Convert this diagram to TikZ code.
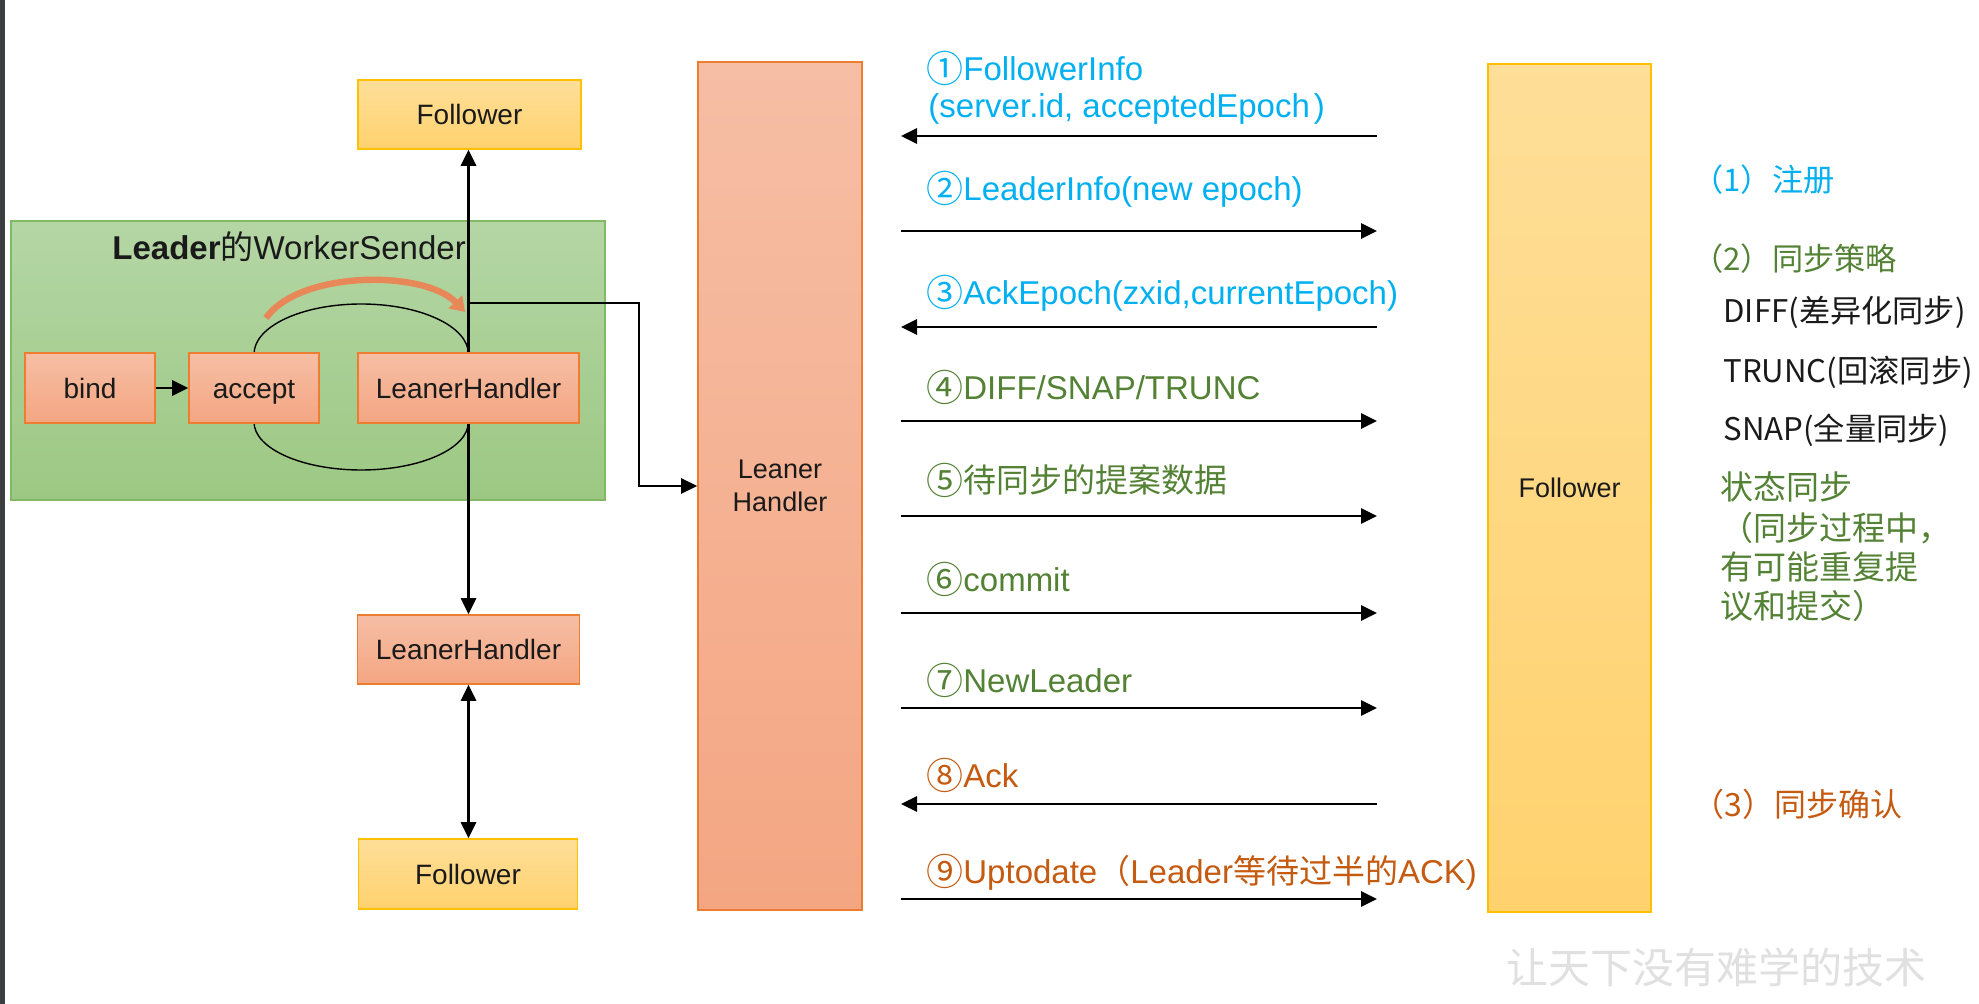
\documentclass[tikz,border=0pt]{standalone}
\usepackage{fontspec}
\setmainfont{Liberation Sans}
\newfontfamily\cjk{Noto Sans CJK SC}
\usetikzlibrary{arrows.meta}
\newcommand\cjkt[1]{{\cjk #1}}
\newcommand\cnum[1]{\raisebox{-1pt}{\cjk\fontsize{18.5}{18.5}\selectfont #1}}
\definecolor{cyanT}{RGB}{0,176,240}
\definecolor{greenT}{RGB}{84,130,53}
\definecolor{orangeT}{RGB}{197,90,17}
\definecolor{darkT}{RGB}{26,26,26}
\definecolor{salmonB}{RGB}{237,125,49}
\definecolor{salmonT}{RGB}{246,190,165}
\definecolor{salmonBo}{RGB}{244,166,130}
\definecolor{yelB}{RGB}{255,192,0}
\definecolor{yelT}{RGB}{254,222,152}
\definecolor{yelBo}{RGB}{255,210,110}
\definecolor{grnB}{RGB}{130,185,100}
\definecolor{grnT}{RGB}{180,214,165}
\definecolor{grnBo}{RGB}{157,200,131}
\definecolor{arcO}{RGB}{232,135,88}
\begin{document}
\begin{tikzpicture}[x=0.5pt,y=-0.5pt,
  box/.style={draw, line width=0.8pt, inner sep=0pt, align=center, text=darkT,
    font=\fontsize{14}{16.5}\selectfont},
  one/.style={text height=10.2pt, text depth=0pt},
  salmon/.style={box, draw=salmonB, top color=salmonT, bottom color=salmonBo},
  yel/.style={box, draw=yelB, top color=yelT, bottom color=yelBo},
  arr/.style={line width=1.4pt, -{Triangle[length=8pt,width=7.5pt]}},
  lab/.style={anchor=west, inner sep=0pt, font=\fontsize{16.5}{19.5}\selectfont},
  rt/.style={anchor=west, inner sep=0pt, font=\cjk\fontsize{15.6}{19.5}\selectfont}
]
\useasboundingbox (0,0) rectangle (1979,1004);
\fill[white] (0,0) rectangle (1979,1004);
\fill[color={rgb,255:red,60;green,63;blue,66}] (0,0) rectangle (5,1004);

% green container
\node[draw=grnB, line width=0.8pt, top color=grnT, bottom color=grnBo,
  minimum width=297pt, minimum height=139.5pt, inner sep=0pt] (green) at (308,360.5) {};
\node[anchor=west, inner sep=0pt, text=darkT, font=\fontsize{16.5}{19}\selectfont] (title) at (112,247)
  {\textbf{Leader}\cjkt{的}WorkerSender};

% loop arcs (accept <-> LeanerHandler)
\draw[line width=0.7pt] (254,354) arc[start angle=180, end angle=0, x radius=53.6pt, y radius=25pt];
\draw[line width=0.7pt] (254,422) arc[start angle=180, end angle=360, x radius=53.6pt, y radius=24pt];

% boxes
\node[salmon, one, minimum width=65pt, minimum height=35pt] (bind) at (90,388) {bind};
\node[salmon, one, minimum width=65pt, minimum height=35pt] (accept) at (254,388) {accept};
\node[salmon, one, minimum width=110.5pt, minimum height=35pt] (lh1) at (468.5,388) {LeanerHandler};
\node[yel, one, minimum width=111.5pt, minimum height=34.5pt] (fTop) at (469.5,114.5) {Follower};
\node[salmon, one, minimum width=111pt, minimum height=34.5pt] (lh2) at (468.5,649.5) {LeanerHandler};
\node[yel, one, minimum width=109.5pt, minimum height=35pt] (fBot) at (468,874) {Follower};
\node[salmon, minimum width=82pt, minimum height=424pt, font=\fontsize{13.5}{16.5}\selectfont] (mid) at (780,486) {Leaner\\Handler};
\node[yel, minimum width=81.5pt, minimum height=424pt, font=\fontsize{13.5}{16.5}\selectfont] (fRight) at (1569.5,488) {Follower};

% orange curved arrow
\draw[line width=3.2pt, arcO, -{Triangle[length=7pt,width=9pt]}] (266,318) .. controls (300,270) and (425,270) .. (465,312);

% left connectors
\draw[arr] (bind.east) -- (accept.west);
\draw[arr] (lh1.north) -- (lh1.north |- fTop.south);
\draw[arr] (lh1.south) -- (lh2.north);
\draw[line width=1.4pt, {Triangle[length=8pt,width=7.5pt]}-{Triangle[length=8pt,width=7.5pt]}] (lh2.south) -- (lh2.south |- fBot.north);
\coordinate (br) at (468.5,303);
\coordinate (brc) at (639,303);
\draw[line width=1.2pt, -{Triangle[length=8pt,width=7.5pt]}] (br) -- (brc) -- (brc |- mid.west) -- (mid.west);

% message arrows
\foreach \i/\yy in {1/136,2/231,3/327,4/421,5/516,6/613,7/708,8/804,9/899}{
  \coordinate (aL\i) at (901,\yy);
  \coordinate (aR\i) at (1377,\yy);
}
\draw[arr] (aR1) -- (aL1);
\draw[arr] (aL2) -- (aR2);
\draw[arr] (aR3) -- (aL3);
\draw[arr] (aL4) -- (aR4);
\draw[arr] (aL5) -- (aR5);
\draw[arr] (aL6) -- (aR6);
\draw[arr] (aL7) -- (aR7);
\draw[arr] (aR8) -- (aL8);
\draw[arr] (aL9) -- (aR9);

% message labels
\node[lab, text=cyanT] (t1a) at (926,68) {\cnum{①}FollowerInfo};
\node[lab, text=cyanT] (t1b) at (928,109) {(server.id, acceptedEpoch\hspace{2pt})};
\node[lab, text=cyanT] (t2) at (926,189) {\cnum{②}LeaderInfo(new epoch)};
\node[lab, text=cyanT] (t3) at (926,293) {\cnum{③}AckEpoch(zxid,currentEpoch)};
\node[lab, text=greenT] (t4) at (926,387) {\cnum{④}DIFF/SNAP/TRUNC};
\node[lab, text=greenT] (t5) at (926,480) {\cnum{⑤}\cjkt{待同步的提案数据}};
\node[lab, text=greenT] (t6) at (926,579) {\cnum{⑥}commit};
\node[lab, text=greenT] (t7) at (926,680) {\cnum{⑦}NewLeader};
\node[lab, text=orangeT] (t8) at (926,775) {\cnum{⑧}Ack};
\node[lab, text=orangeT] (t9) at (926,872) {\cnum{⑨}Uptodate\cjkt{（}Leader\cjkt{等待过半的}ACK)};

% right side notes
\node[rt, text=cyanT] (r1) at (1692,180) {（1）注册};
\node[rt, text=greenT] (r2) at (1692,259) {（2）同步策略};
\node[rt, text=darkT] (r3) at (1723,312) {DIFF(差异化同步)};
\node[rt, text=darkT] (r4) at (1723,372) {TRUNC(回滚同步)};
\node[rt, text=darkT] (r5) at (1723,430) {SNAP(全量同步)};
\node[rt, text=greenT, font=\cjk\fontsize{16.5}{19.5}\selectfont] (r6) at (1720,487) {状态同步};
\node[rt, text=greenT, font=\cjk\fontsize{16.5}{19.5}\selectfont] (r7) at (1720,528) {（同步过程中，};
\node[rt, text=greenT, font=\cjk\fontsize{16.5}{19.5}\selectfont] (r8) at (1720,567) {有可能重复提};
\node[rt, text=greenT, font=\cjk\fontsize{16.5}{19.5}\selectfont] (r9) at (1720,606) {议和提交）};
\node[rt, text=orangeT, font=\cjk\fontsize{16}{19.5}\selectfont] (r10) at (1692,804) {（3）同步确认};

% watermark
\node[inner sep=0pt, text=black!12, font=\cjk\fontsize{21}{21}\selectfont] (wm) at (1716,967) {让天下没有难学的技术};
\end{tikzpicture}
\end{document}
